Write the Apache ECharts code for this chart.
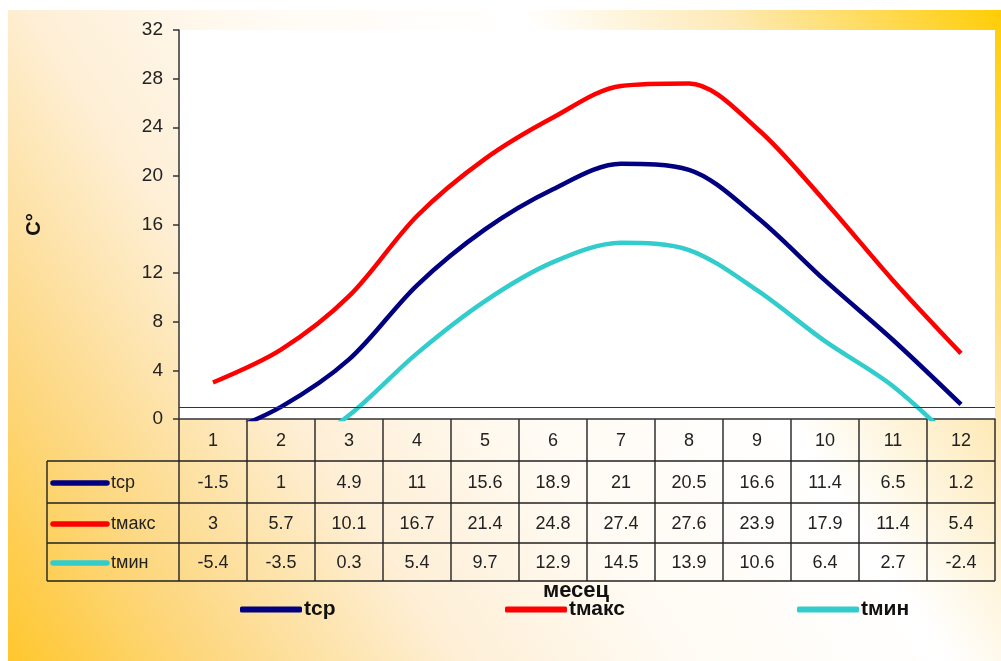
<!DOCTYPE html>
<html>
<head>
<meta charset="utf-8">
<script src="https://cdn.jsdelivr.net/npm/echarts@6/dist/echarts.min.js"></script>
<style>
html,body{margin:0;padding:0;background:#fff;}
#c{width:1001px;height:661px;}
</style>
</head>
<body>
<div id="c"></div>
<script>
// ---- data ----
const months = ['1','2','3','4','5','6','7','8','9','10','11','12'];
const seriesNames = ['tср','tмакс','tмин'];
const tAvg = [-1.5, 1, 4.9, 11, 15.6, 18.9, 21, 20.5, 16.6, 11.4, 6.5, 1.2];
const tMax = [3, 5.7, 10.1, 16.7, 21.4, 24.8, 27.4, 27.6, 23.9, 17.9, 11.4, 5.4];
const tMin = [-5.4, -3.5, 0.3, 5.4, 9.7, 12.9, 14.5, 13.9, 10.6, 6.4, 2.7, -2.4];
const yMin = 0, yMax = 32, yStep = 4;
const xTitle = 'месец';
const yTitle = 'С°';

// ---- styling ----
const FONT = 'Liberation Sans, Arial, sans-serif';
const colors = ['#000080', '#FF0000', '#33CCCC'];
const allData = [tAvg, tMax, tMin];

const chart = echarts.init(document.getElementById('c'), null, {renderer: 'canvas'});

const option = {
  animation: false,
  backgroundColor: new echarts.graphic.LinearGradient(0, 1, 1, 0, [
    {offset: 0, color: '#FFC62A'},
    {offset: 0.14, color: '#FDD77E'},
    {offset: 0.32, color: '#FEEFD6'},
    {offset: 0.48, color: '#FFFBF4'},
    {offset: 0.66, color: '#FFFFFF'},
    {offset: 0.8, color: '#FEEAB8'},
    {offset: 0.92, color: '#FFD84A'},
    {offset: 1, color: '#FFCC00'}
  ]),
  textStyle: {fontFamily: FONT},
  grid: {
    left: 179, right: 6, top: 30, bottom: 242,
    show: true, backgroundColor: '#FFFFFF', borderWidth: 0,
    containLabel: false
  },
  legend: seriesNames.map((n, i) => ({
    data: [n],
    left: [235, 500, 792][i],
    top: 594,
    icon: 'roundRect',
    itemWidth: 62,
    itemHeight: 6,
    itemGap: 0,
    textStyle: {fontFamily: FONT, fontSize: 21, fontWeight: 'bold', color: '#111', padding: [0, 0, 0, -3]}
  })),
  xAxis: {
    type: 'category',
    data: months,
    boundaryGap: true,
    name: xTitle,
    nameLocation: 'middle',
    nameGap: 161,
    nameTextStyle: {fontFamily: FONT, fontSize: 22, fontWeight: 'bold', color: '#111', padding: [0, 22, 0, 0]},
    axisLine: {show: true, onZero: false, lineStyle: {color: '#333', width: 1.5}},
    axisTick: {show: false},
    axisLabel: {show: false},
    splitLine: {show: false}
  },
  yAxis: {
    type: 'value',
    min: yMin, max: yMax, interval: yStep,
    name: yTitle,
    nameLocation: 'middle',
    nameGap: 135,
    nameTextStyle: {fontFamily: FONT, fontSize: 20, fontWeight: 'bold', color: '#111'},
    axisLine: {show: true, lineStyle: {color: '#333', width: 1.5}},
    axisTick: {show: true, inside: false, length: 6, lineStyle: {color: '#333', width: 1.5}},
    axisLabel: {fontFamily: FONT, fontSize: 19, color: '#222', margin: 16},
    splitLine: {show: false}
  },
  series: seriesNames.map((n, i) => ({
    name: n,
    type: 'line',
    data: allData[i],
    smooth: 0.32,
    symbol: 'none',
    clip: true,
    color: colors[i],
    lineStyle: {color: colors[i], width: 4.5},
    markLine: i === 0 ? {
      silent: true, symbol: 'none', label: {show: false},
      lineStyle: {color: '#333', width: 1.2, type: 'solid'},
      data: [{yAxis: 1}]
    } : undefined
  }))
};
chart.setOption(option);

// ---- data table drawn under the plot from the same arrays ----
function buildTable() {
  const els = [];
  const c0 = chart.convertToPixel({xAxisIndex: 0}, 0);
  const c1 = chart.convertToPixel({xAxisIndex: 0}, 1);
  const cw = c1 - c0;
  const x0 = c0 - cw / 2;
  const xEnd = x0 + cw * months.length;
  const yTop = chart.convertToPixel({yAxisIndex: 0}, yMin);
  const tableLeft = 47;
  const rows = [yTop, yTop + 42, yTop + 84, yTop + 124, yTop + 162];
  const line = (x1, y1, x2, y2) => ({
    type: 'line', silent: true,
    shape: {x1, y1, x2, y2},
    style: {stroke: '#222', lineWidth: 1.4}
  });
  const txt = (x, y, s, align) => ({
    type: 'text', silent: true,
    x, y,
    style: {text: s, font: '18px ' + FONT, fill: '#222', align: align || 'center', verticalAlign: 'middle'}
  });
  for (let r = 1; r < rows.length; r++) els.push(line(tableLeft, rows[r], xEnd, rows[r]));
  els.push(line(tableLeft, rows[1], tableLeft, rows[4]));
  for (let k = 0; k <= months.length; k++) {
    const x = x0 + cw * k;
    els.push(line(x, rows[0], x, rows[4]));
  }
  months.forEach((m, k) => els.push(txt(x0 + cw * (k + 0.5), (rows[0] + rows[1]) / 2 + 1, m)));
  seriesNames.forEach((n, r) => {
    const yc = (rows[r + 1] + rows[r + 2]) / 2 + 1;
    els.push({
      type: 'line', silent: true,
      shape: {x1: 53, y1: yc, x2: 107, y2: yc},
      style: {stroke: colors[r], lineWidth: 5.5, lineCap: 'round'}
    });
    els.push(txt(111, yc, n, 'left'));
    allData[r].forEach((v, k) => els.push(txt(x0 + cw * (k + 0.5), yc, String(v))));
  });
  els.push({type: 'rect', silent: true, z: -1, shape: {x: 0, y: 0, width: 1001, height: 10}, style: {fill: '#fff'}});
  els.push({type: 'rect', silent: true, z: -1, shape: {x: 0, y: 0, width: 8, height: 661}, style: {fill: '#fff'}});
  chart.setOption({graphic: {elements: els}});
}
buildTable();
</script>
</body>
</html>
